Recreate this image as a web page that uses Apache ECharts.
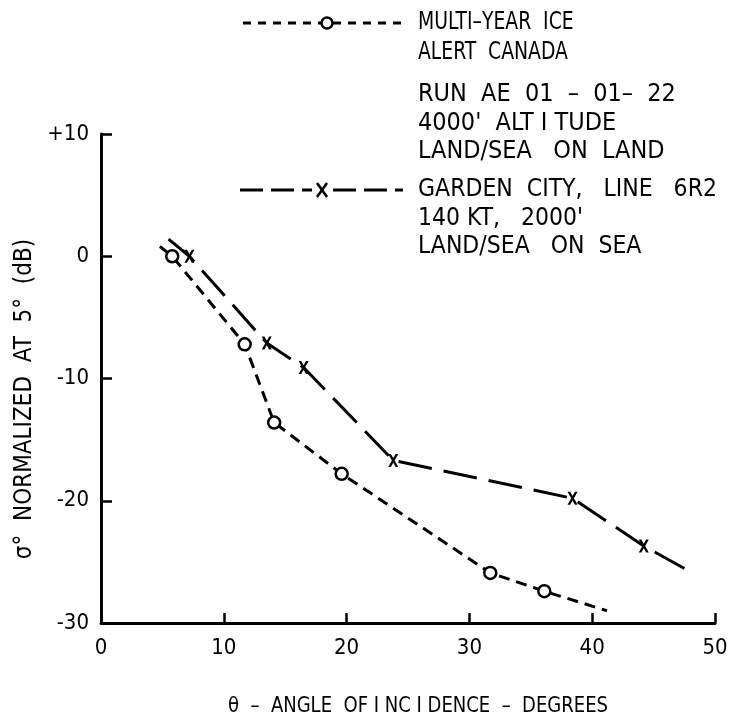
<!DOCTYPE html>
<html>
<head>
<meta charset="utf-8">
<script src="https://cdn.jsdelivr.net/npm/echarts@6/dist/echarts.min.js"></script>
<style>html,body{margin:0;padding:0;background:#fff}#c{width:751px;height:727px}</style>
</head>
<body>
<div id="c"></div>
<script>
// ---- data ----
const iceX = [4.8, 5.8, 11.7, 14.1, 19.6, 31.7, 36.1, 41.2];
const iceY = [0.8, 0.0, -7.2, -13.6, -17.8, -25.9, -27.4, -29.0];
const iceMarked = [false, true, true, true, true, true, true, false];

const gardenX = [5.5, 7.2, 13.5, 16.5, 23.8, 38.4, 44.2, 47.8];
const gardenY = [1.4, 0.0, -7.1, -9.1, -16.7, -19.8, -23.7, -25.7];
const gardenMarked = [false, true, true, true, true, true, true, false];

const xTicks = [0, 10, 20, 30, 40, 50];
const yTicks = [-30, -20, -10, 0, 10];

const legend1Lines = ['MULTI\u2013YEAR  ICE', 'ALERT  CANADA'];
const legend1Extra = ['RUN  AE  01  \u2013  01\u2013  22', "4000'  ALT I TUDE", 'LAND/SEA   ON  LAND'];
const legend2Lines = ['GARDEN  CITY,   LINE   6R2', "140 KT,   2000'", 'LAND/SEA   ON  SEA'];

const xName = '\u03b8  \u2013  ANGLE  OF I NC I DENCE  \u2013  DEGREES';
const yName = '\u03c3\u00b0  NORMALIZED  AT  5\u00b0  (dB)';

const FONT = '"DejaVu Sans Condensed", "Liberation Sans Narrow", sans-serif';
const XSYM = 'path://M0,0 L2.6,0 L5,4.2 L7.4,0 L10,0 L6.4,6.5 L10,13 L7.4,13 L5,8.8 L2.6,13 L0,13 L3.6,6.5 Z';

function build(xs, ys, marked){
  return xs.map((x,i)=>({value:[x, ys[i]], symbol: marked[i] ? undefined : 'none'}));
}

const chart = echarts.init(document.getElementById('c'));
function T(t, x, y, size, sx, align){
  return {type:'text', x:x, y:y, scaleX: sx, style:{text:t, fontFamily: FONT, fontSize: size, fill:'#000', align: align || 'left', verticalAlign:'middle'}};
}

const graphics = [];
// legend 1
graphics.push({type:'line', shape:{x1:243,y1:23,x2:403,y2:23}, style:{stroke:'#000', lineWidth:3, lineDash:[8,7]}});
graphics.push({type:'circle', shape:{cx:327,cy:23,r:5.5}, style:{fill:'#fff', stroke:'#000', lineWidth:2.5}});
legend1Lines.forEach((t,i)=>graphics.push(T(t, 418, 23+i*30, 24, 0.87)));
legend1Extra.forEach((t,i)=>graphics.push(T(t, 418, 95+i*28.5, 24, 1.04)));
// legend 2
graphics.push({type:'line', shape:{x1:240,y1:190,x2:403,y2:190}, style:{stroke:'#000', lineWidth:3, lineDash:[23,8]}});
graphics.push({type:'rect', shape:{x:312,y:178,width:20,height:24}, style:{fill:'#fff'}});
graphics.push({type:'line', shape:{x1:317,y1:183,x2:327,y2:197}, style:{stroke:'#000', lineWidth:2.5}});
graphics.push({type:'line', shape:{x1:327,y1:183,x2:317,y2:197}, style:{stroke:'#000', lineWidth:2.5}});
legend2Lines.forEach((t,i)=>graphics.push(T(t, 418, 190+i*28.5, 24, 1.02)));
// axis names
graphics.push(T(xName, 418, 706, 22, 0.91, 'center'));
graphics.push({type:'text', x:25, y:399, rotation: Math.PI/2, style:{text:yName, fontFamily: FONT, fontSize: 24, fill:'#000', align:'center', verticalAlign:'middle'}});

chart.setOption({
  animation: false,
  backgroundColor: '#fff',
  grid: {left: 101, right: 36, top: 134, bottom: 104, containLabel: false},
  xAxis: {
    type: 'value', min: 0, max: 50, interval: 10,
    axisLine: {onZero: false, lineStyle: {color: '#000', width: 3}},
    axisTick: {inside: true, length: 10, lineStyle: {color: '#000', width: 2.5}},
    axisLabel: {color: '#000', fontFamily: FONT, fontSize: 22, margin: 14,
      formatter: v => xTicks.includes(v) ? String(v) : ''},
    splitLine: {show: false}
  },
  yAxis: {
    type: 'value', min: -30, max: 10, interval: 10,
    axisLine: {onZero: false, lineStyle: {color: '#000', width: 3}},
    axisTick: {inside: true, length: 11, lineStyle: {color: '#000', width: 2.5}},
    axisLabel: {color: '#000', fontFamily: FONT, fontSize: 22, margin: 12,
      formatter: v => yTicks.includes(v) ? (v > 0 ? '+' + v : String(v)) : ''},
    splitLine: {show: false}
  },
  graphic: graphics,
  series: [
    {
      type: 'line', name: 'MULTI-YEAR ICE',
      data: build(iceX, iceY, iceMarked),
      symbol: 'circle', symbolSize: 12, showAllSymbol: true,
      lineStyle: {color: '#000', width: 3, type: [11, 7]},
      itemStyle: {color: '#fff', borderColor: '#000', borderWidth: 2.5},
      z: 3
    },
    {
      type: 'line', name: 'GARDEN CITY',
      data: build(gardenX, gardenY, gardenMarked),
      symbol: XSYM, symbolSize: [10, 13], showAllSymbol: true,
      lineStyle: {color: '#000', width: 3, type: [34, 12]},
      itemStyle: {color: '#000', borderWidth: 0},
      z: 2
    }
  ]
});
</script>
</body>
</html>
